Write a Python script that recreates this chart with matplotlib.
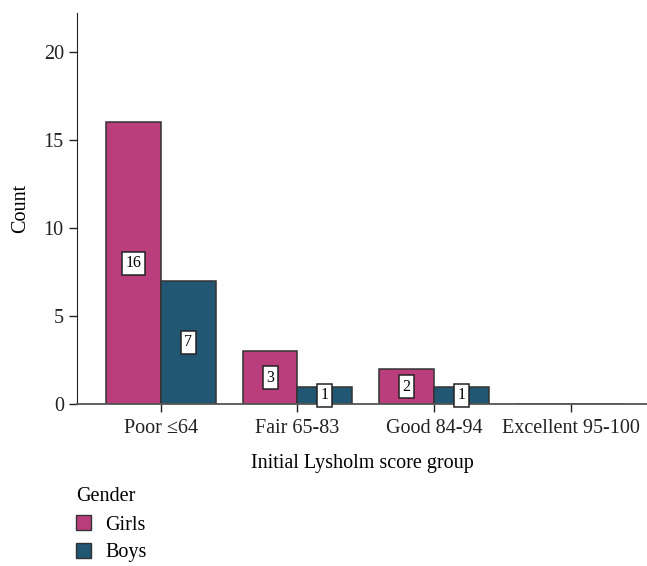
import numpy as np
import matplotlib
matplotlib.use("Agg")
from matplotlib import pyplot as plt
from matplotlib.patches import Patch

# Data
categories = ["Poor \u226464", "Fair 65-83", "Good 84-94", "Excellent 95-100"]
girls = [16, 3, 2, 0]
boys = [7, 1, 1, 0]
series_names = ["Girls", "Boys"]
y_ticks = [0, 5, 10, 15, 20]

pink = "#BA3D7C"
blue = "#225773"

plt.rcParams['font.family'] = ['Liberation Serif', 'DejaVu Serif']

fig = plt.figure(figsize=(6.47, 5.66), dpi=100)
ax = fig.add_axes([0.119, 0.286, 0.881, 0.691])

x = np.arange(len(categories))
w = 0.4
b1 = ax.bar(x - w / 2, girls, w, color=pink, edgecolor="#333333", linewidth=1.1)
b2 = ax.bar(x + w / 2, boys, w, color=blue, edgecolor="#333333", linewidth=1.1)

# value labels in white boxes at mid-height
for bars, vals in ((b1, girls), (b2, boys)):
    for r, v in zip(bars, vals):
        if v == 0:
            continue
        ax.text(r.get_x() + r.get_width() / 2, v / 2, str(v), ha="center", va="center",
                fontsize=11.5,
                bbox=dict(boxstyle="square,pad=0.22", facecolor="white", edgecolor="#222222", linewidth=1.1))

ax.set_xlim(-0.615, 3.56)
ax.set_ylim(0, 22.2)
ax.set_yticks(y_ticks)
ax.set_xticks(x)
ax.set_xticklabels(categories)
ax.tick_params(axis="both", labelsize=14.5, length=6, width=1, colors="#222222")
ax.tick_params(axis="x", pad=5)
ax.spines["top"].set_visible(False)
ax.spines["right"].set_visible(False)
ax.spines["left"].set_color("#222222")
ax.spines["bottom"].set_color("#555555")
ax.spines["bottom"].set_linewidth(1.3)

ax.set_xlabel("Initial Lysholm score group", fontsize=14.5, labelpad=11)
ax.set_ylabel("Count", fontsize=14.5, labelpad=10)

handles = [Patch(facecolor=pink, edgecolor="#333333"), Patch(facecolor=blue, edgecolor="#333333")]
leg = fig.legend(handles, series_names, title="Gender", loc="upper left",
                 bbox_to_anchor=(0.118, 0.14), frameon=False, fontsize=14.5,
                 title_fontsize=14.5, handlelength=0.75, handleheight=0.75,
                 handletextpad=0.7, labelspacing=0.4, borderpad=0, borderaxespad=0)
leg._legend_box.align = "left"
leg._legend_box.sep = 7

fig.savefig("out.png", dpi=100)
